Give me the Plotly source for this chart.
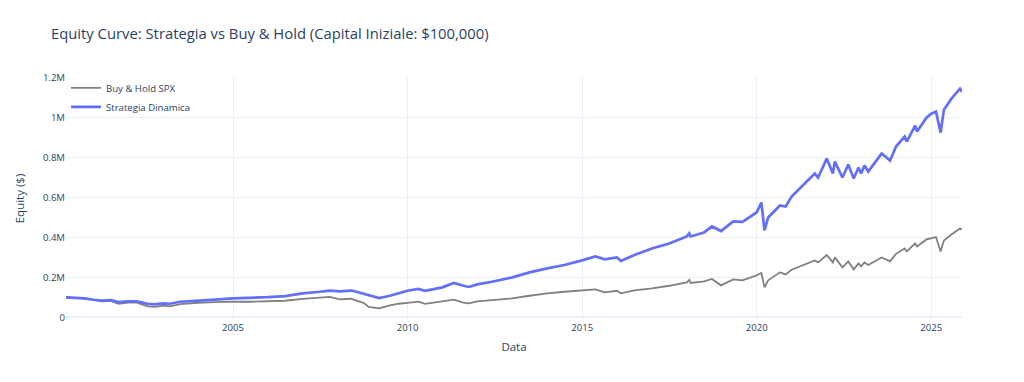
import plotly.graph_objects as go

dates = [
    "2000-03-20", "2000-07-01", "2000-10-01", "2001-01-02", "2001-04-01", "2001-07-01",
    "2001-09-21", "2001-12-31", "2002-04-01", "2002-07-23", "2002-10-09", "2002-12-31",
    "2003-03-11", "2003-06-30", "2003-12-31", "2004-06-30", "2004-12-31", "2005-06-30",
    "2005-12-31", "2006-06-30", "2006-12-31", "2007-06-30", "2007-10-09", "2008-01-22",
    "2008-05-19", "2008-07-15", "2008-09-30", "2008-11-20", "2009-03-09", "2009-06-30",
    "2009-09-30", "2009-12-31", "2010-04-23", "2010-07-02", "2010-12-31", "2011-04-29",
    "2011-08-08", "2011-10-03", "2011-12-31", "2012-06-01", "2012-12-31", "2013-06-30",
    "2013-12-31", "2014-06-30", "2014-12-31", "2015-05-20", "2015-08-25", "2015-12-31",
    "2016-02-11", "2016-06-30", "2016-12-31", "2017-06-30", "2017-12-31", "2018-01-26",
    "2018-02-08", "2018-06-30", "2018-09-20", "2018-12-24", "2019-04-30", "2019-08-05",
    "2019-12-31", "2020-02-19", "2020-03-23", "2020-04-30", "2020-08-31", "2020-10-30",
    "2020-12-31", "2021-04-30", "2021-08-31", "2021-10-04", "2022-01-03", "2022-03-08",
    "2022-03-29", "2022-06-16", "2022-08-16", "2022-10-12", "2022-12-01", "2022-12-28",
    "2023-02-02", "2023-03-13", "2023-07-31", "2023-10-27", "2023-12-29", "2024-03-28",
    "2024-04-19", "2024-07-16", "2024-08-05", "2024-11-11", "2024-12-31", "2025-02-19",
    "2025-04-08", "2025-05-13", "2025-07-31", "2025-10-28", "2025-11-18",
]

strategia_k = [
    100, 98, 95, 88, 84, 86,
    76, 80, 80, 67, 65, 70,
    68, 78, 85, 89, 95, 97,
    101, 106, 120, 128, 134, 130,
    134, 128, 118, 108, 96, 108,
    122, 133, 142, 133, 150, 172,
    158, 152, 165, 178, 200, 225,
    245, 262, 285, 305, 290, 300,
    282, 312, 345, 370, 405, 420,
    405, 425, 455, 432, 480, 478,
    525, 575, 435, 500, 560, 555,
    605, 660, 720, 700, 795, 720,
    780, 700, 765, 695, 750, 720,
    760, 730, 820, 785, 855, 905,
    880, 960, 930, 1000, 1020, 1030,
    925, 1040, 1095, 1145, 1130,
]

buyhold_k = [
    100, 98, 94, 87, 80, 82,
    68, 74, 74, 55, 52, 58,
    55, 66, 73, 76, 79, 78,
    81, 83, 92, 99, 102, 90,
    93, 84, 72, 52, 45, 60,
    68, 72, 78, 67, 80, 88,
    73, 70, 80, 85, 95, 108,
    120, 128, 133, 140, 125, 133,
    120, 135, 145, 158, 175, 188,
    172, 180, 192, 160, 190, 185,
    210, 222, 150, 185, 225, 215,
    238, 262, 285, 275, 312, 275,
    300, 250, 280, 240, 270, 255,
    275, 262, 300, 280, 318, 345,
    330, 370, 355, 390, 395, 402,
    330, 385, 415, 445, 440,
]

strategia = [v * 1000 for v in strategia_k]
buyhold = [v * 1000 for v in buyhold_k]

font_family = '"Open Sans", verdana, arial, sans-serif'

fig = go.Figure()
fig.add_trace(go.Scatter(x=dates, y=buyhold, mode="lines", name="Buy & Hold SPX",
                         line=dict(color="gray", width=1.8)))
fig.add_trace(go.Scatter(x=dates, y=strategia, mode="lines", name="Strategia Dinamica",
                         line=dict(color="#636EFA", width=2.7)))

W, H = 1008, 366
fig.update_layout(
    template="plotly_white",
    width=W, height=H, autosize=False,
    font=dict(family=font_family, size=9.6, color="#2a3f5f"),
    title=dict(text="Equity Curve: Strategia vs Buy & Hold (Capital Iniziale: $100,000)",
               x=(51 - 8) / W, xanchor="left", y=1 - 25.5 / H, yanchor="middle", yref="container",
               font=dict(size=14.8)),
    margin=dict(l=53, r=54, t=69, b=54),
    legend=dict(x=0.0, y=1.015, xanchor="left", yanchor="top", bgcolor="rgba(0,0,0,0)",
                font=dict(size=9.6)),
    xaxis=dict(title=dict(text="Data", font=dict(size=11.5), standoff=10),
               range=["2000-03-20", "2025-11-18"], tickfont=dict(size=9.6)),
    yaxis=dict(title=dict(text="Equity ($)", font=dict(size=11.5)), range=[-13500, 1203500],
               tickfont=dict(size=9.6)),
)

fig.write_html("out.html")
